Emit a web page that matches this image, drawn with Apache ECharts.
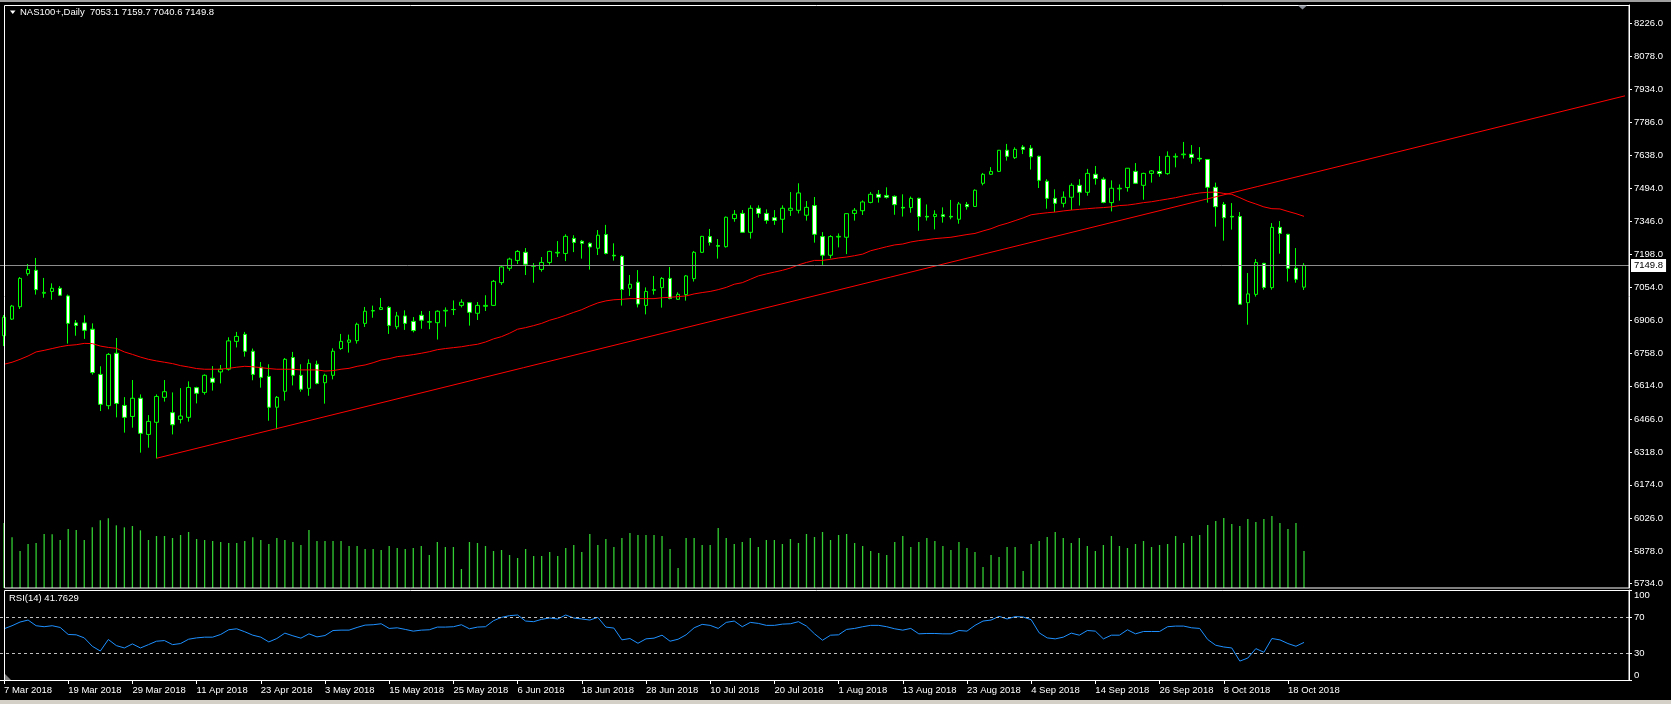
<!DOCTYPE html>
<html><head><meta charset="utf-8">
<script src="https://cdn.jsdelivr.net/npm/echarts@6/dist/echarts.min.js"></script>
<style>html,body{margin:0;padding:0;background:#000;}#c{width:1671px;height:704px;}</style>
</head><body><div id="c"></div>
<script>
// ---------- data ----------
const symbolTitle = 'NAS100+,Daily';
const lastOHLC = [7053.1, 7159.7, 7040.6, 7149.8];
const firstDate = '2018-03-07';
const holidays = ['2018-03-30'];
const barCount = 163;
const slotCount = 203; // bars + empty chart-shift area

const opens = [6837,6911,6966,7113,7128,7026,7034,7048,7014,6894,
6894,6866,6665,6526,6759,6527,6478,6559,6398,6452,
6563,6495,6465,6474,6606,6585,6648,6676,6688,6812,
6843,6768,6697,6656,6519,6590,6740,6661,6603,6710,
6628,6661,6780,6808,6815,6892,6947,6954,6963,6877,
6925,6901,6928,6897,6895,6947,6953,6972,6984,6937,
6968,6972,7073,7137,7172,7208,7149,7132,7163,7205,
7203,7270,7257,7248,7226,7287,7195,7190,7048,7075,
6972,7039,7051,7092,6999,7020,7091,7208,7278,7238,
7233,7358,7381,7297,7404,7381,7362,7355,7395,7395,
7373,7416,7278,7195,7276,7275,7381,7393,7430,7466,
7461,7457,7408,7407,7448,7368,7367,7375,7368,7355,
7421,7412,7515,7555,7568,7662,7629,7676,7671,7635,
7524,7448,7426,7453,7506,7475,7555,7533,7429,7490,
7496,7568,7506,7559,7568,7558,7632,7642,7644,7626,
7621,7497,7421,7368,7367,6984,7021,7159,7051,7319,
7288,7137,7053.1];
const closes = [6919,6969,7092,7132,7042,7030,7048,7017,6892,6883,
6861,6673,6532,6754,6536,6474,6559,6403,6456,6567,
6588,6441,6480,6607,6581,6661,6630,6688,6814,6834,
6768,6665,6652,6519,6563,6732,6661,6599,6714,6625,
6661,6768,6812,6818,6888,6946,6949,6962,6883,6925,
6892,6860,6906,6900,6946,6950,6954,6986,6941,6972,
6972,7079,7143,7178,7212,7155,7146,7163,7212,7208,
7279,7252,7248,7232,7284,7203,7192,7043,7066,6978,
7034,7042,7092,7003,7021,7103,7208,7279,7252,7235,
7364,7377,7297,7404,7381,7350,7350,7404,7404,7472,
7408,7288,7195,7278,7279,7380,7395,7432,7466,7453,
7453,7420,7405,7448,7367,7365,7377,7367,7365,7423,
7411,7484,7555,7568,7662,7635,7666,7666,7633,7528,
7448,7426,7453,7506,7475,7559,7536,7430,7493,7493,
7582,7515,7559,7570,7558,7635,7635,7645,7630,7623,
7497,7411,7362,7365,6977,7023,7163,7052,7319,7292,
7137,7088,7149.8];
const highs = [6929,6974,7098,7156,7183,7094,7070,7058,7020,6907,
6928,6892,6701,6760,6827,6564,6640,6576,6484,6576,
6640,6585,6604,6634,6610,6665,6702,6707,6830,6854,
6854,6780,6720,6710,6569,6738,6765,6710,6732,6726,
6668,6781,6845,6842,6895,6965,6971,7005,6969,6943,
6950,6920,6947,6947,6950,6963,6994,6999,6987,6987,
7017,7085,7150,7184,7218,7227,7160,7187,7215,7258,
7288,7284,7263,7252,7307,7330,7248,7195,7107,7129,
7052,7103,7098,7143,7030,7107,7214,7281,7312,7267,
7367,7396,7396,7417,7417,7399,7396,7417,7476,7515,
7436,7454,7298,7284,7292,7381,7405,7439,7476,7485,
7497,7461,7466,7456,7451,7421,7395,7408,7441,7432,
7432,7488,7561,7587,7663,7690,7675,7685,7685,7638,
7533,7488,7479,7515,7533,7579,7592,7542,7528,7510,
7583,7605,7562,7574,7636,7657,7648,7699,7685,7676,
7621,7518,7432,7427,7387,7116,7178,7161,7338,7347,
7290,7227,7159.7];
const lows = [6791,6907,6956,7104,7020,7006,6997,7014,6802,6837,
6823,6664,6502,6510,6474,6406,6428,6317,6339,6292,
6544,6398,6447,6455,6536,6575,6593,6625,6682,6785,
6744,6639,6606,6459,6421,6548,6616,6588,6570,6621,
6535,6643,6774,6762,6802,6876,6917,6951,6845,6866,
6863,6852,6868,6866,6820,6877,6929,6963,6882,6907,
6947,6969,7063,7126,7156,7107,7073,7122,7153,7187,
7169,7209,7180,7131,7196,7199,7171,6971,7014,6963,
6932,7020,6962,6999,6996,6993,7078,7206,7238,7180,
7229,7344,7295,7269,7362,7335,7330,7295,7370,7381,
7349,7251,7152,7181,7230,7200,7349,7374,7426,7429,
7447,7375,7367,7384,7304,7349,7310,7340,7355,7335,
7398,7411,7506,7552,7565,7616,7623,7645,7576,7494,
7402,7387,7408,7396,7416,7460,7509,7426,7390,7438,
7478,7512,7442,7518,7544,7553,7586,7625,7602,7611,
7429,7322,7260,7309,6975,6886,7011,7042,7042,7202,
7078,7073,7040.6];
const movingAvg = [6710,6719,6732,6747,6765,6772,6780,6788,6794,6797,
6803,6802,6791,6785,6781,6765,6754,6742,6732,6725,
6719,6713,6704,6698,6691,6688,6688,6688,6692,6697,
6701,6699,6695,6691,6688,6688,6688,6685,6685,6685,
6680,6682,6688,6692,6701,6707,6717,6729,6735,6744,
6748,6753,6759,6766,6775,6780,6784,6788,6794,6799,
6809,6823,6833,6848,6866,6873,6882,6892,6906,6916,
6928,6941,6953,6969,6983,6992,6997,6999,7002,7002,
7002,7002,7006,7008,7011,7014,7023,7029,7034,7042,
7052,7066,7073,7088,7103,7112,7120,7128,7138,7152,
7163,7172,7172,7177,7183,7187,7193,7200,7215,7224,
7233,7241,7245,7254,7260,7264,7269,7272,7275,7281,
7287,7292,7303,7313,7327,7337,7349,7361,7375,7380,
7384,7387,7392,7396,7399,7402,7405,7407,7410,7416,
7418,7423,7429,7433,7439,7445,7451,7459,7466,7472,
7475,7476,7470,7466,7451,7435,7423,7410,7402,7401,
7390,7380,7368];
const volumes = [1950,1520,1110,1320,1350,1620,1610,1440,1770,1740,
1440,1820,2030,2090,1880,1820,1860,1730,1440,1560,
1560,1500,1590,1680,1470,1440,1410,1380,1350,1350,
1410,1520,1440,1320,1500,1440,1380,1290,1740,1410,
1410,1410,1410,1260,1260,1170,1170,1140,1260,1200,
1170,1200,1260,990,1380,1230,1230,570,1380,1350,
1260,1110,1140,990,900,1170,960,960,1080,960,
1200,1290,1080,1620,1290,1470,1230,1500,1650,1590,
1590,1590,1560,1170,600,1500,1500,1290,1290,1800,
1500,1320,1380,1500,1230,1440,1440,1320,1470,1350,
1620,1530,1680,1440,1590,1620,1350,1260,1110,1050,
990,1380,1560,1230,1380,1500,1410,1260,1140,1380,
1200,1080,630,990,930,1230,1230,510,1320,1410,
1530,1680,1500,1350,1500,1260,1110,1290,1560,1260,
1200,1320,1410,1230,1290,1320,1560,1350,1560,1590,
1890,2010,2100,1920,1860,2070,1980,2070,2160,1950,
1770,1950,1110];
const rsi = [56.9,60.3,64.4,66.6,60.3,59.2,60.3,58.4,50.6,50.2,
46.8,37.5,32.2,45.0,38.2,35.6,40.1,35.6,39.3,43.1,
43.8,39.3,40.5,45.3,46.8,47.6,47.6,50.6,55.8,56.9,
53.6,49.8,47.6,42.3,46.1,52.1,49.1,46.5,51.3,47.9,
49.4,55.0,55.4,55.4,58.4,61.0,61.4,62.5,57.3,58.0,
56.2,54.3,55.4,55.8,58.8,58.8,59.2,61.4,56.9,58.8,
59.2,65.9,69.6,71.5,72.2,65.5,64.8,67.4,68.9,67.8,
72.2,68.9,67.8,66.6,69.6,58.8,57.7,44.6,46.1,40.8,
45.7,46.5,49.8,43.1,45.3,50.2,58.0,61.8,60.7,57.3,
64.0,65.5,59.2,64.0,62.9,60.7,60.7,62.1,62.5,64.8,
59.9,51.3,44.2,49.8,50.2,56.2,57.3,59.2,60.7,60.7,
59.2,56.9,55.4,57.3,51.3,51.7,51.7,51.3,51.3,55.0,
54.3,60.7,65.5,66.6,70.7,67.8,70.4,70.0,67.0,52.4,
46.8,45.7,47.6,52.1,49.8,55.0,54.3,45.7,49.8,49.8,
55.8,51.3,53.9,53.9,53.9,59.2,59.9,59.9,58.0,57.3,
45.0,38.6,36.7,35.6,21.0,24.4,34.9,30.8,46.1,44.6,
40.5,37.5,41.76];
const rsiLast = '41.7629';
const rsiLevels = [70, 30];
const rsiTicks = [0, 30, 70, 100];
const priceTicks = [8226,8078,7934,7786,7638,7494,7346,7198,7054,6906,6758,6614,6466,6318,6174,6026,5878,5734];
const trendStart = [19, 6292];
const trendEnd = [202, 7904];
const priceMin = 5715, priceMax = 8308;
const volumeMax = 17490;

// ---------- categories (trading days) ----------
const MON = ['Jan','Feb','Mar','Apr','May','Jun','Jul','Aug','Sep','Oct','Nov','Dec'];
const categories = [];
{
  const d = new Date(firstDate + 'T00:00:00Z');
  while (categories.length < slotCount) {
    const wd = d.getUTCDay();
    const iso = d.toISOString().slice(0, 10);
    if (wd !== 0 && wd !== 6 && holidays.indexOf(iso) < 0) {
      categories.push(d.getUTCDate() + ' ' + MON[d.getUTCMonth()] + ' ' + d.getUTCFullYear());
    }
    d.setUTCDate(d.getUTCDate() + 1);
  }
}

const candleData = opens.map((o, i) => [o, closes[i], lows[i], highs[i]]);
const FONT = "'Liberation Sans', Arial, sans-serif";
const showIdx = (idx) => idx % 8 === 0 && idx < barCount;

const chart = echarts.init(document.getElementById('c'), null, { renderer: 'canvas' });
chart.setOption({
  backgroundColor: '#000',
  animation: false,
  grid: [
    { left: 0, top: 5, width: 1629, height: 583 },
    { left: 0, top: 590, width: 1629, height: 90 }
  ],
  xAxis: [
    { type: 'category', gridIndex: 0, data: categories, boundaryGap: true,
      axisLine: { show: false }, axisTick: { show: false }, axisLabel: { show: false }, splitLine: { show: false } },
    { type: 'category', gridIndex: 1, data: categories, boundaryGap: true,
      axisLine: { show: true, lineStyle: { color: '#fff', width: 1 } },
      axisTick: { show: true, alignWithLabel: true, length: 4, interval: showIdx, lineStyle: { color: '#fff' } },
      axisLabel: { show: true, interval: showIdx, align: 'left', margin: 5, color: '#fff', fontSize: 9.5, fontFamily: FONT,
        formatter: (v, idx) => idx < barCount ? v : '' },
      splitLine: { show: false } }
  ],
  yAxis: [
    { type: 'value', gridIndex: 0, position: 'right', min: priceMin, max: priceMax, scale: true,
      axisLine: { show: true, lineStyle: { color: '#fff' } },
      axisTick: { show: true, length: 3, customValues: priceTicks, lineStyle: { color: '#fff' } },
      axisLabel: { show: true, customValues: priceTicks, margin: 5, color: '#fff', fontSize: 9.5, fontFamily: FONT,
        formatter: v => Number(v).toFixed(1) },
      splitLine: { show: false } },
    { type: 'value', gridIndex: 0, min: 0, max: volumeMax, show: false, splitLine: { show: false } },
    { type: 'value', gridIndex: 1, position: 'right', min: 0, max: 100,
      axisLine: { show: true, lineStyle: { color: '#fff' } },
      axisTick: { show: true, length: 3, customValues: rsiTicks, lineStyle: { color: '#fff' } },
      axisLabel: { show: true, customValues: rsiTicks, margin: 5, color: '#fff', fontSize: 9.5, fontFamily: FONT,
        verticalAlignMaxLabel: 'top', verticalAlignMinLabel: 'bottom' },
      splitLine: { show: false } }
  ],
  series: [
    { type: 'bar', name: 'Volumes', xAxisIndex: 0, yAxisIndex: 1, data: volumes, barWidth: 1.3,
      itemStyle: { color: '#32cd32' }, z: 1, silent: true },
    { type: 'candlestick', name: 'NAS100+', xAxisIndex: 0, yAxisIndex: 0, data: candleData, barWidth: 4,
      large: false, z: 3,
      itemStyle: { color: '#000', color0: '#fff', borderColor: '#00ff00', borderColor0: '#00ff00',
        borderColorDoji: '#00ff00', borderWidth: 1 },
      markLine: { silent: true, symbol: 'none', animation: false,
        data: [{ yAxis: lastOHLC[3] }],
        lineStyle: { color: '#8c8c8c', width: 1, type: 'solid' },
        label: { show: true, position: 'end', distance: 2, formatter: () => lastOHLC[3].toFixed(1),
          color: '#000', backgroundColor: '#fff', padding: [2, 3, 1, 3], fontSize: 9.5, fontFamily: FONT } } },
    { type: 'line', name: 'MA', xAxisIndex: 0, yAxisIndex: 0, data: movingAvg, symbol: 'none', z: 4,
      lineStyle: { color: '#ff0000', width: 1 }, silent: true },
    { type: 'line', name: 'Trend', xAxisIndex: 0, yAxisIndex: 0, data: [trendStart, trendEnd], symbol: 'none', z: 4,
      lineStyle: { color: '#ff0000', width: 1 }, silent: true },
    { type: 'line', name: 'RSI', xAxisIndex: 1, yAxisIndex: 2, data: rsi, symbol: 'none', z: 4,
      lineStyle: { color: '#1e90ff', width: 1 }, silent: true,
      markLine: { silent: true, symbol: 'none', animation: false,
        data: rsiLevels.map(v => ({ yAxis: v })),
        lineStyle: { color: '#c0c0c0', width: 1, type: [3, 3] }, label: { show: false } } }
  ],
  graphic: [
    { type: 'rect', shape: { x: 0, y: 0, width: 1671, height: 2 }, style: { fill: '#a0a0a0' }, z: 11, silent: true },
    { type: 'rect', shape: { x: 4.5, y: 5.5, width: 1624.5, height: 582.5 }, style: { fill: null, stroke: '#fff', lineWidth: 1 }, z: 10, silent: true },
    { type: 'rect', shape: { x: 4.5, y: 590.5, width: 1624.5, height: 90 }, style: { fill: null, stroke: '#fff', lineWidth: 1 }, z: 10, silent: true },
    { type: 'polygon', shape: { points: [[10, 10.5], [15.5, 10.5], [12.75, 14]] }, style: { fill: '#fff' }, z: 11, silent: true },
    { type: 'text', x: 20, y: 12.5, style: { text: symbolTitle + '  ' + lastOHLC.map(v => v.toFixed(1)).join(' '),
        fill: '#fff', font: '9.5px ' + FONT, textVerticalAlign: 'middle' }, z: 11, silent: true },
    { type: 'text', x: 9, y: 598.5, style: { text: 'RSI(14) ' + rsiLast, fill: '#fff', font: '9.5px ' + FONT,
        textVerticalAlign: 'middle' }, z: 11, silent: true },
    { type: 'polygon', shape: { points: [[1298, 5.5], [1307, 5.5], [1302.5, 9.5]] }, style: { fill: '#8a8f99' }, z: 11, silent: true },
    { type: 'polygon', shape: { points: [[5, 674], [5, 680], [11, 680]] }, style: { fill: '#808080' }, z: 11, silent: true },
    { type: 'rect', shape: { x: 0, y: 700, width: 1671, height: 4 }, style: { fill: '#d4d0c8' }, z: 11, silent: true }
  ]
});
</script></body></html>
